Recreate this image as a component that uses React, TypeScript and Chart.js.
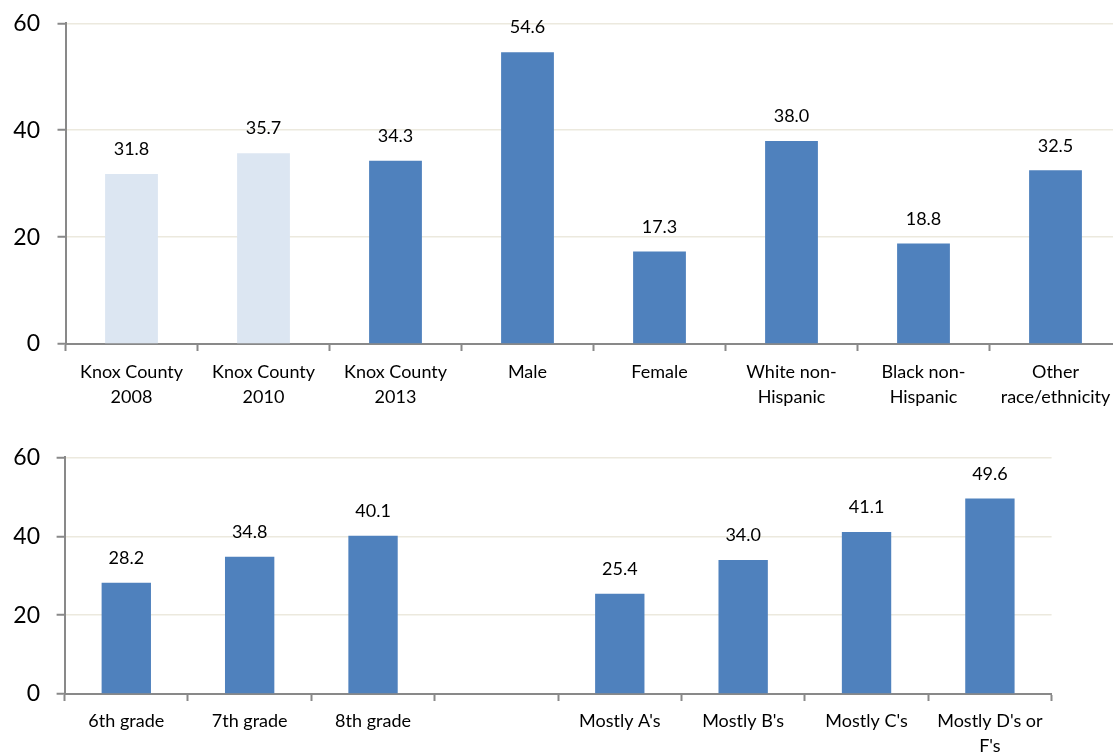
import React, { useEffect, useRef } from "react";
import { Chart, registerables } from "chart.js";

Chart.register(...registerables);

// ---------- Data ----------
const topCategories: (string | string[])[] = [
  ["Knox County", "2008"],
  ["Knox County", "2010"],
  ["Knox County", "2013"],
  "Male",
  "Female",
  ["White non-", "Hispanic"],
  ["Black non-", "Hispanic"],
  ["Other", "race/ethnicity"],
];
const topValues: (number | null)[] = [31.8, 35.7, 34.3, 54.6, 17.3, 38.0, 18.8, 32.5];
const topIsEarlierYear: boolean[] = [true, true, false, false, false, false, false, false];

const bottomCategories: (string | string[])[] = [
  "6th grade",
  "7th grade",
  "8th grade",
  "",
  "Mostly A's",
  "Mostly B's",
  "Mostly C's",
  ["Mostly D's or", "F's"],
];
const bottomValues: (number | null)[] = [28.2, 34.8, 40.1, null, 25.4, 34.0, 41.1, 49.6];

const yTicks: number[] = [0, 20, 40, 60];

// ---------- Styles ----------
const DARK = "#4F81BD";
const LIGHT = "#DCE6F2";
const GRID = "rgb(236,233,222)";
const AXIS = "#898989";
const FONT = "Lato";

const valueLabelPlugin = {
  id: "valueLabels",
  afterDatasetsDraw(chart: any) {
    const ctx = chart.ctx;
    ctx.save();
    ctx.font = `18px ${FONT}`;
    ctx.fillStyle = "#000";
    ctx.textAlign = "center";
    ctx.textBaseline = "middle";
    chart.data.datasets.forEach((ds: any, di: number) => {
      const meta = chart.getDatasetMeta(di);
      meta.data.forEach((bar: any, i: number) => {
        const v = ds.data[i];
        if (v === null || v === undefined) return;
        ctx.fillText(Number(v).toFixed(1), bar.x, bar.y - 24.5);
      });
    });
    ctx.restore();
  },
};

interface Geo {
  width: number;
  height: number;
  yWidth: number;
  xHeight: number;
  padTop: number;
  padRight: number;
  yLabelPad: number;
  xLabelPad: number;
}

function makeConfig(labels: any[], values: (number | null)[], colors: string[], g: Geo): any {
  return {
    type: "bar",
    data: {
      labels,
      datasets: [
        {
          data: values,
          backgroundColor: colors,
          borderWidth: 0,
          barPercentage: 0.4,
          categoryPercentage: 1.0,
        },
      ],
    },
    plugins: [valueLabelPlugin],
    options: {
      responsive: false,
      animation: false,
      devicePixelRatio: 1,
      layout: { padding: { top: g.padTop, right: g.padRight, left: 0, bottom: 0 } },
      plugins: { legend: { display: false }, tooltip: { enabled: false }, title: { display: false } },
      scales: {
        x: {
          offset: true,
          grid: {
            display: true,
            drawOnChartArea: false,
            drawTicks: true,
            tickLength: 7,
            tickWidth: 2,
            tickColor: AXIS,
            offset: true,
          },
          border: { display: true, color: AXIS, width: 2 },
          ticks: {
            color: "#000",
            font: { family: FONT, size: 18, lineHeight: 1.39 },
            padding: g.xLabelPad,
            maxRotation: 0,
            minRotation: 0,
            autoSkip: false,
          },
          afterFit: (s: any) => {
            s.height = g.xHeight;
          },
        },
        y: {
          min: 0,
          max: 60,
          afterBuildTicks: (s: any) => {
            s.ticks = yTicks.map((v) => ({ value: v }));
          },
          grid: {
            color: GRID,
            lineWidth: 1.5,
            drawTicks: true,
            tickLength: 8,
            tickColor: AXIS,
            tickWidth: 2,
          },
          border: { display: true, color: AXIS, width: 2 },
          ticks: {
            color: "#000",
            font: { family: FONT, size: 23 },
            padding: g.yLabelPad,
          },
          afterFit: (s: any) => {
            s.width = g.yWidth;
          },
        },
      },
    },
  };
}

function BarCanvas({ labels, values, colors, g, top }: any) {
  const ref = useRef<HTMLCanvasElement | null>(null);
  useEffect(() => {
    if (!ref.current) return;
    const chart = new Chart(ref.current, makeConfig(labels, values, colors, g));
    return () => chart.destroy();
  }, []);
  return (
    <canvas
      ref={ref}
      width={g.width}
      height={g.height}
      style={{ position: "absolute", left: 0, top, width: g.width, height: g.height, display: "block" }}
    />
  );
}

export default function App() {
  const topColors = topIsEarlierYear.map((p) => (p ? LIGHT : DARK));
  const bottomColors = bottomValues.map(() => DARK);

  const topGeo: Geo = {
    width: 1140,
    height: 438,
    yWidth: 65.5,
    xHeight: 86,
    padTop: 0,
    padRight: 18.5,
    yLabelPad: 17.5,
    xLabelPad: 8.5,
  };
  const bottomGeo: Geo = {
    width: 1113,
    height: 327,
    yWidth: 64.6,
    xHeight: 60,
    padTop: 0,
    padRight: 61.4,
    yLabelPad: 16.6,
    xLabelPad: 7.5,
  };

  return (
    <div
      style={{
        position: "fixed",
        left: 0,
        top: 0,
        width: 1113,
        height: 754,
        overflow: "hidden",
        background: "#fff",
      }}
    >
      <BarCanvas labels={topCategories} values={topValues} colors={topColors} g={topGeo} top={-8} />
      <BarCanvas labels={bottomCategories} values={bottomValues} colors={bottomColors} g={bottomGeo} top={427} />
    </div>
  );
}
